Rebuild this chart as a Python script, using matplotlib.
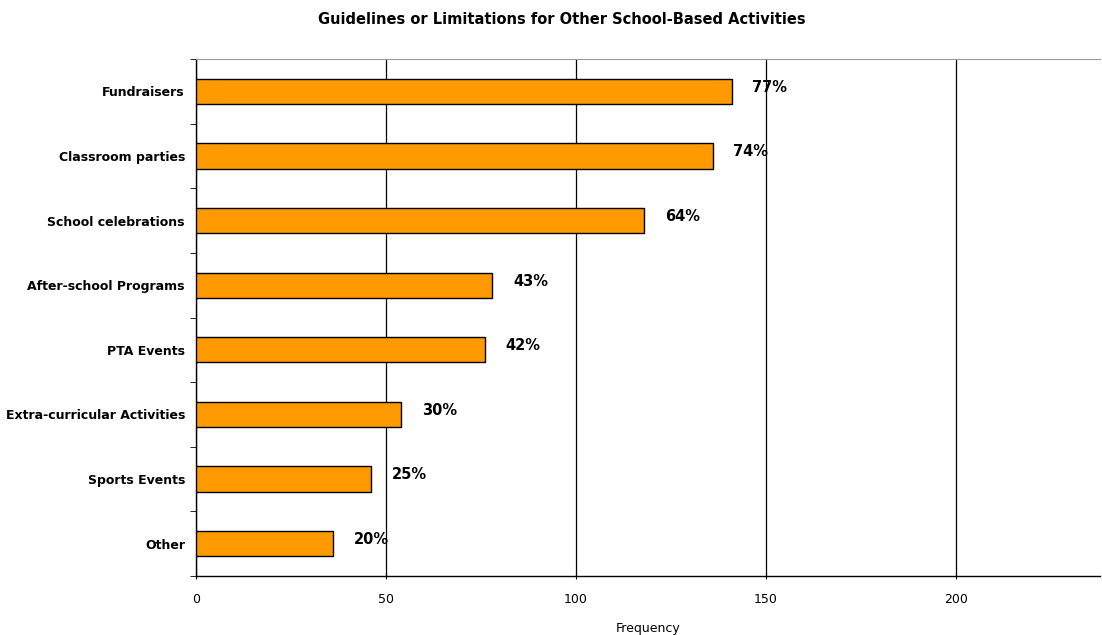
import numpy as np
import matplotlib.pyplot as plt

# data
categories = ["Fundraisers", "Classroom parties", "School celebrations",
              "After-school Programs", "PTA Events", "Extra-curricular Activities",
              "Sports Events", "Other"]
counts = [141, 136, 118, 78, 76, 54, 46, 36]
pct_labels = ["77%", "74%", "64%", "43%", "42%", "30%", "25%", "20%"]
xticks = [0, 50, 100, 150, 200]

plt.rcParams['font.family'] = ['DejaVu Sans']

fig = plt.figure(figsize=(11.02, 6.35), dpi=100)
ax = fig.add_axes([196/1102, 59/635, 904/1102, 517/635])

y = np.arange(len(categories))
ax.barh(y, counts, height=0.39, color='#FF9900', edgecolor='black', linewidth=1.0, zorder=3)

# percentage labels next to each bar
for yi, c, lab in zip(y, counts, pct_labels):
    ax.annotate(lab, (c, yi), xytext=(15, 3), textcoords='offset points',
                ha='left', va='center', fontsize=10.5, fontweight='bold', zorder=4)

ax.set_ylim(len(categories) - 0.5, -0.5)
ax.set_xlim(0, 238)
ax.set_xticks(xticks)
ax.set_xticklabels([str(t) for t in xticks], fontsize=9)
ax.set_yticks(y)
ax.set_yticklabels(categories, fontsize=9, fontweight='bold')
ax.tick_params(axis='y', length=0, pad=8)
ax.set_yticks(np.arange(-0.5, len(categories)), minor=True)
ax.tick_params(axis='y', which='minor', length=4, direction='out')
ax.tick_params(axis='x', length=4, direction='inout', pad=10)

ax.grid(axis='x', color='black', linewidth=0.9, zorder=0)
ax.spines['right'].set_visible(False)
ax.spines['top'].set_color('#999999')
ax.spines['left'].set_linewidth(1.0)
ax.spines['bottom'].set_linewidth(1.0)

ax.set_xlabel('Frequency', fontsize=9, labelpad=12)
fig.suptitle('Guidelines or Limitations for Other School-Based Activities',
             x=0.51, y=0.981, fontsize=10.5, fontweight='bold')

fig.savefig('out.png', dpi=100)
